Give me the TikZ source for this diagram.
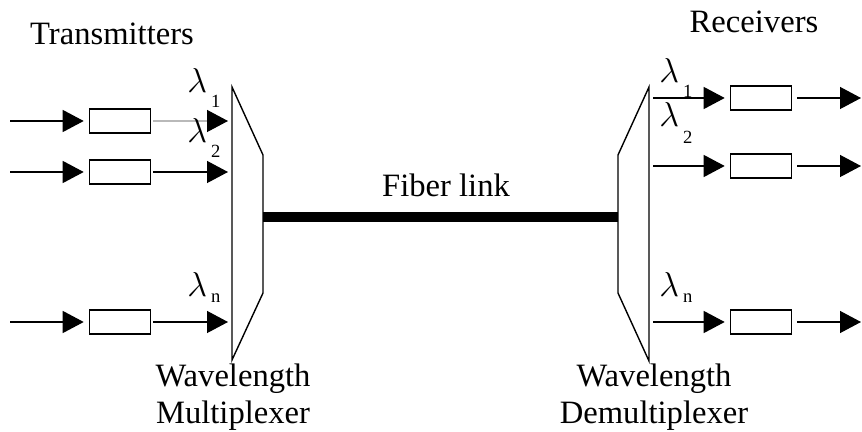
\documentclass[tikz,border=0pt]{standalone}
\usepackage{fontspec}
\setmainfont{Liberation Serif}
\usepackage{tikz}
\usetikzlibrary{
    shapes
  , arrows
  , arrows.meta
  , positioning
}

\newcommand{\wavelab}[2]{$\lambda$\kern2pt\raisebox{-#2}{\fontsize{9.3}{10}\selectfont #1}}

\tikzset{
  sig/.style={-{Triangle[length=10.5pt,width=11pt,color=black]}, line width=0.65pt},
  unit/.style={draw, rectangle, line width=0.8pt, minimum width=30.5pt, minimum height=12pt, inner sep=0pt},
  lab/.style={font=\fontsize{16.3}{19}\selectfont, inner sep=0pt}
}

\begin{document}
\begin{tikzpicture}[x=0.5pt, y=-0.5pt]
  \useasboundingbox (0,0) rectangle (862,432);
  % Multiplexer / Demultiplexer
  \draw[line width=0.7pt] (232,87) -- (263,155) -- (263,293) -- (232,360) -- cycle;
  \draw[line width=0.7pt] (649,87) -- (618,155) -- (618,293) -- (649,361) -- cycle;
  \coordinate (mxOut) at (263,217);
  \coordinate (dmxIn) at (618,217);
  % Fiber link
  \draw[line width=4.8pt] (mxOut) -- (dmxIn);
  \node[lab, anchor=base] (fiber) at (446,197) {Fiber link};
  % Transmitters
  \node[lab, anchor=base] (txTitle) at (112,45) {Transmitters};
  \coordinate (srcL1) at (10,121);
  \coordinate (srcL2) at (10,172);
  \coordinate (srcLn) at (10,322);
  \node[unit] (txL1) at (120,121) {};
  \node[unit] (txL2) at (120,172) {};
  \node[unit] (txLn) at (120,322) {};
  \coordinate (mxL1) at (232,121);
  \coordinate (mxL2) at (232,172);
  \coordinate (mxLn) at (232,322);
  \draw[sig, shorten >=2.5pt] (srcL1) -- (txL1.west);
  \draw[sig, shorten >=2.5pt] (srcL2) -- (txL2.west);
  \draw[sig, shorten >=2.5pt] (srcLn) -- (txLn.west);
  \draw[sig, draw=gray!55, shorten <=1pt, shorten >=2pt] (txL1.east) -- (mxL1);
  \draw[sig, shorten <=1pt, shorten >=2pt] (txL2.east) -- (mxL2);
  \draw[sig, shorten <=1pt, shorten >=2pt] (txLn.east) -- (mxLn);
  \node[lab, anchor=base west] (lamL1) at (187,93) {\wavelab{1}{7.5pt}};
  \node[lab, anchor=base west] (lamL2) at (187,143) {\wavelab{2}{7.5pt}};
  \node[lab, anchor=base west] (lamLn) at (187,297) {\wavelab{n}{3pt}};
  \node[lab, anchor=base] (muxA) at (233,387) {Wavelength};
  \node[lab, anchor=base] (muxB) at (233,424) {Multiplexer};
  % Receivers
  \node[lab, anchor=base] (rxTitle) at (754,33) {Receivers};
  \coordinate (dmxR1) at (649,98);
  \coordinate (dmxR2) at (649,166);
  \coordinate (dmxRn) at (649,322);
  \node[unit] (rxR1) at (761,98) {};
  \node[unit] (rxR2) at (761,166) {};
  \node[unit] (rxRn) at (761,322) {};
  \coordinate (outR1) at (861,98);
  \coordinate (outR2) at (861,166);
  \coordinate (outRn) at (861,322);
  \draw[sig, shorten <=2pt, shorten >=2.5pt] (dmxR1) -- (rxR1.west);
  \draw[sig, shorten <=2pt, shorten >=2.5pt] (dmxR2) -- (rxR2.west);
  \draw[sig, shorten <=2pt, shorten >=2.5pt] (dmxRn) -- (rxRn.west);
  \draw[sig, shorten <=2.5pt] (rxR1.east) -- (outR1);
  \draw[sig, shorten <=2.5pt] (rxR2.east) -- (outR2);
  \draw[sig, shorten <=2.5pt] (rxRn.east) -- (outRn);
  \node[lab, anchor=base west] (lamR1) at (659,83) {\wavelab{1}{7.5pt}};
  \node[lab, anchor=base west] (lamR2) at (659,127) {\wavelab{2}{8.5pt}};
  \node[lab, anchor=base west] (lamRn) at (659,297) {\wavelab{n}{3pt}};
  \node[lab, anchor=base] (dmxA) at (654,387) {Wavelength};
  \node[lab, anchor=base] (dmxB) at (654,424) {Demultiplexer};
\end{tikzpicture}
\end{document}
